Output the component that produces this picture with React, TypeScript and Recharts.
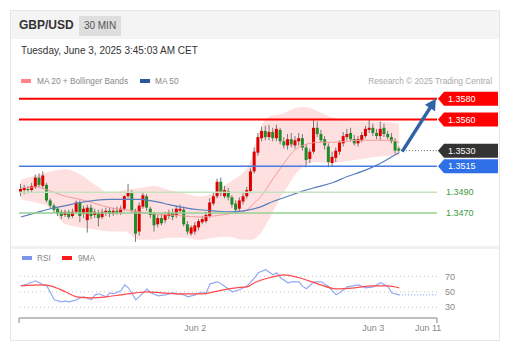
import React from "react";
import { ComposedChart, Bar, Line, Area, XAxis, YAxis, ReferenceLine } from "recharts";

// 30-minute candles, index 0..102 (Jun 2 00:00 = 47, Jun 3 00:00 = 95)
const opens = [
  1.3490, 1.3492, 1.3493, 1.3492, 1.3495, 1.3504, 1.3496, 1.3497, 1.3482, 1.3477,
  1.3474, 1.3471, 1.3468, 1.3471, 1.3467, 1.3471, 1.3480, 1.3469, 1.3463, 1.3475,
  1.3468, 1.3470, 1.3466, 1.3470, 1.3472, 1.3469, 1.3472, 1.3470, 1.3474, 1.3486,
  1.3489, 1.3472, 1.3452, 1.3476, 1.3486, 1.3474, 1.3469, 1.3459, 1.3465, 1.3463,
  1.3467, 1.3470, 1.3468, 1.3472, 1.3473, 1.3459, 1.3450, 1.3452, 1.3456, 1.3461,
  1.3462, 1.3467, 1.3479, 1.3486, 1.3500, 1.3486, 1.3491, 1.3485, 1.3479, 1.3474,
  1.3481, 1.3486, 1.3491, 1.3510, 1.3528, 1.3542, 1.3549, 1.3543, 1.3548, 1.3542,
  1.3550, 1.3539, 1.3535, 1.3541, 1.3535, 1.3539, 1.3542, 1.3533, 1.3522, 1.3529,
  1.3552, 1.3546, 1.3541, 1.3534, 1.3518, 1.3523, 1.3529, 1.3537, 1.3543, 1.3547,
  1.3541, 1.3537, 1.3540, 1.3544, 1.3550, 1.3552, 1.3547, 1.3544, 1.3552, 1.3546,
  1.3543, 1.3539, 1.3532,
];
const highs = [
  1.3498, 1.3497, 1.3496, 1.3499, 1.3507, 1.3508, 1.3510, 1.3499, 1.3484, 1.3479,
  1.3476, 1.3473, 1.3473, 1.3473, 1.3474, 1.3482, 1.3482, 1.3477, 1.3478, 1.3478,
  1.3474, 1.3473, 1.3474, 1.3475, 1.3475, 1.3475, 1.3476, 1.3477, 1.3487, 1.3498,
  1.3492, 1.3474, 1.3480, 1.3490, 1.3488, 1.3476, 1.3471, 1.3468, 1.3469, 1.3471,
  1.3473, 1.3474, 1.3477, 1.3478, 1.3476, 1.3462, 1.3458, 1.3461, 1.3464, 1.3467,
  1.3471, 1.3484, 1.3489, 1.3503, 1.3504, 1.3496, 1.3494, 1.3487, 1.3482, 1.3485,
  1.3489, 1.3495, 1.3513, 1.3533, 1.3547, 1.3553, 1.3554, 1.3555, 1.3552, 1.3555,
  1.3552, 1.3543, 1.3546, 1.3547, 1.3544, 1.3547, 1.3546, 1.3536, 1.3532, 1.3560,
  1.3558, 1.3550, 1.3544, 1.3537, 1.3529, 1.3533, 1.3540, 1.3548, 1.3551, 1.3552,
  1.3545, 1.3544, 1.3548, 1.3554, 1.3560, 1.3556, 1.3551, 1.3558, 1.3556, 1.3549,
  1.3547, 1.3542, 1.3534,
];
const lows = [
  1.3486, 1.3488, 1.3489, 1.3490, 1.3493, 1.3495, 1.3493, 1.3480, 1.3474, 1.3470,
  1.3467, 1.3464, 1.3466, 1.3464, 1.3465, 1.3469, 1.3461, 1.3465, 1.3451, 1.3464,
  1.3465, 1.3457, 1.3464, 1.3467, 1.3466, 1.3467, 1.3468, 1.3468, 1.3472, 1.3484,
  1.3470, 1.3442, 1.3448, 1.3474, 1.3472, 1.3465, 1.3452, 1.3456, 1.3458, 1.3460,
  1.3464, 1.3463, 1.3465, 1.3469, 1.3457, 1.3449, 1.3448, 1.3449, 1.3453, 1.3459,
  1.3460, 1.3465, 1.3477, 1.3484, 1.3486, 1.3484, 1.3482, 1.3475, 1.3469, 1.3471,
  1.3478, 1.3484, 1.3489, 1.3508, 1.3525, 1.3539, 1.3540, 1.3540, 1.3539, 1.3539,
  1.3536, 1.3532, 1.3531, 1.3533, 1.3532, 1.3535, 1.3530, 1.3514, 1.3518, 1.3527,
  1.3543, 1.3538, 1.3531, 1.3514, 1.3515, 1.3519, 1.3526, 1.3534, 1.3540, 1.3539,
  1.3535, 1.3534, 1.3538, 1.3542, 1.3547, 1.3544, 1.3541, 1.3540, 1.3543, 1.3541,
  1.3537, 1.3527, 1.3528,
];
const closes = [
  1.3493, 1.3494, 1.3492, 1.3496, 1.3504, 1.3497, 1.3506, 1.3482, 1.3477, 1.3473,
  1.3469, 1.3467, 1.3471, 1.3466, 1.3471, 1.3480, 1.3467, 1.3474, 1.3475, 1.3467,
  1.3471, 1.3465, 1.3471, 1.3472, 1.3469, 1.3472, 1.3470, 1.3474, 1.3486, 1.3490,
  1.3472, 1.3450, 1.3477, 1.3487, 1.3475, 1.3468, 1.3458, 1.3465, 1.3460, 1.3468,
  1.3470, 1.3466, 1.3474, 1.3474, 1.3459, 1.3452, 1.3456, 1.3458, 1.3462, 1.3464,
  1.3468, 1.3480, 1.3486, 1.3500, 1.3489, 1.3492, 1.3485, 1.3478, 1.3473, 1.3482,
  1.3486, 1.3492, 1.3510, 1.3529, 1.3543, 1.3549, 1.3543, 1.3548, 1.3542, 1.3551,
  1.3539, 1.3535, 1.3541, 1.3536, 1.3540, 1.3542, 1.3533, 1.3521, 1.3529, 1.3552,
  1.3546, 1.3540, 1.3535, 1.3519, 1.3524, 1.3530, 1.3538, 1.3544, 1.3546, 1.3541,
  1.3537, 1.3541, 1.3545, 1.3551, 1.3552, 1.3547, 1.3544, 1.3551, 1.3546, 1.3543,
  1.3539, 1.3530, 1.3530,
];

// Bollinger bands + MA 20, read at sample candles
const bandIdx = [0, 4, 8, 12, 16, 20, 24, 28, 32, 36, 40, 44, 48, 52, 56, 60, 61, 62, 63, 64, 65, 66, 68, 70, 72, 74, 76, 78, 80, 84, 88, 92, 96, 100, 102];
const bandUpper = [1.3502, 1.3506, 1.3510, 1.3512, 1.3507, 1.3497, 1.3489, 1.3492, 1.3494, 1.3496, 1.3492, 1.3489, 1.3486, 1.3489, 1.3499, 1.3509, 1.3513, 1.3521, 1.3533, 1.3545, 1.3555, 1.3560, 1.3564, 1.3565, 1.3568, 1.3571, 1.3572, 1.3571, 1.3568, 1.3562, 1.3559, 1.3558, 1.3558, 1.3557, 1.3556];
const bandLower = [1.3483, 1.3480, 1.3475, 1.3459, 1.3456, 1.3454, 1.3452, 1.3452, 1.3444, 1.3444, 1.3446, 1.3446, 1.3444, 1.3446, 1.3447, 1.3444, 1.3444, 1.3444, 1.3445, 1.3448, 1.3452, 1.3458, 1.3471, 1.3485, 1.3496, 1.3507, 1.3514, 1.3518, 1.3519, 1.3518, 1.3520, 1.3522, 1.3524, 1.3525, 1.3525];
const ma20 = [1.3494, 1.3495, 1.3491, 1.3486, 1.3483, 1.3479, 1.3475, 1.3473, 1.3471, 1.3469, 1.3468, 1.3467, 1.3466, 1.3467, 1.3469, 1.3471, 1.3473, 1.3476, 1.3480, 1.3483, 1.3487, 1.3492, 1.3503, 1.3513, 1.3523, 1.3531, 1.3535, 1.3537, 1.3538, 1.3538, 1.3539, 1.3540, 1.3540, 1.3540, 1.3538];

const ma50Idx = [0, 4, 8, 12, 16, 20, 24, 28, 32, 36, 40, 44, 48, 52, 56, 60, 64, 68, 72, 76, 80, 84, 88, 92, 96, 100, 102];
const ma50 = [1.3466, 1.3470, 1.3474, 1.3477, 1.3480, 1.3482, 1.3483, 1.3483, 1.3483, 1.3481, 1.3478, 1.3475, 1.3473, 1.3472, 1.3471, 1.3472, 1.3475, 1.3481, 1.3486, 1.3491, 1.3495, 1.3499, 1.3505, 1.3510, 1.3516, 1.3524, 1.3528];

// RSI panel
const rsiIdx = [0, 2, 4, 6, 7, 8, 9, 11, 12, 13, 15, 16, 17, 19, 20, 21, 23, 24, 25, 27, 28, 29, 31, 33, 34, 35, 37, 39, 41, 44, 45, 47, 48, 50, 51, 53, 54, 57, 59, 61, 63, 64, 66, 68, 69, 70, 72, 73, 75, 76, 77, 79, 81, 83, 85, 86, 88, 91, 93, 95, 97, 99, 100, 102];
const rsiVals = [57.8, 60.4, 64.3, 59, 57.8, 48.7, 39.6, 37, 38.3, 37, 39.6, 42.2, 43.5, 39.6, 46.1, 47.4, 43.5, 48.7, 47.4, 51.3, 59, 55.2, 39.6, 48.7, 53.9, 48.7, 44.8, 46.1, 48.7, 46.1, 43.5, 46.1, 48.7, 48.7, 60.4, 63, 60.4, 50, 52.6, 57.8, 68.2, 74.7, 78.6, 72, 74.7, 68.2, 61.7, 63, 63, 57, 54, 63, 63, 56.5, 46.1, 48.7, 56.5, 59, 55.2, 56.5, 61.7, 56.5, 48.7, 46.1];
const ma9Idx = [0, 6, 8, 12, 15, 19, 23, 27, 31, 34, 38, 42, 45, 49, 52, 56, 58, 61, 63, 67, 71, 75, 80, 85, 90, 95, 99, 102];
const ma9Vals = [57.8, 59, 57.8, 50, 43.5, 42.2, 43.5, 46.1, 48.7, 50, 48.7, 47.4, 47.4, 47.4, 50, 53.9, 55.2, 56.5, 61.7, 68.2, 72.1, 68.2, 60.4, 53.9, 55.2, 57.8, 57.8, 55.2];
const rsiExtIdx = [102, 112];
const rsiExtVals = [46.1, 46.1];

const dateTicks = [-0.5, 47, 95, 109.8, 112.2];
const dateLabels = ["", "Jun 2", "Jun 3", "Jun 11", ""];

// levels
const resistance = [1.358, 1.356];
const supportBlue = 1.3515;
const supportGreen = [1.349, 1.347];
const lastPrice = 1.353;
const arrowFrom = { x: 102.8, y: 1.3529 };
const arrowTo = { x: 111.9, y: 1.358 };

const X_DOMAIN: [number, number] = [-0.5, 112.2];
const FONT = "'Liberation Sans', Arial, sans-serif";
const RED = "#e00000";
const GREEN = "#1e8c28";
const WICK = "#777";

const pick = (idx: number[], vals: number[], i: number) => {
  const k = idx.indexOf(i);
  return k >= 0 ? vals[k] : null;
};

const candleRows = opens.map((o, i) => {
  const k = bandIdx.indexOf(i);
  return {
    i,
    o,
    h: highs[i],
    l: lows[i],
    c: closes[i],
    band: k >= 0 ? [bandLower[k], bandUpper[k]] : null,
    ma20: k >= 0 ? ma20[k] : null,
    ma50: pick(ma50Idx, ma50, i),
  };
});

const rsiRows = Array.from(new Set([...rsiIdx, ...ma9Idx, ...rsiExtIdx]))
  .sort((a, b) => a - b)
  .map((i) => ({
    i,
    rsi: pick(rsiIdx, rsiVals, i),
    ma9: pick(ma9Idx, ma9Vals, i),
    ext: pick(rsiExtIdx, rsiExtVals, i),
  }));

function Candle(props: any) {
  const { x, y, width, height, payload } = props;
  if (!payload || height == null) return null;
  const { o, h, l, c } = payload;
  const k = h - l > 0 ? height / (h - l) : 0;
  const yo = y + (h - o) * k;
  const yc = y + (h - c) * k;
  const cx = x + width / 2;
  return (
    <g>
      <line x1={cx} x2={cx} y1={y} y2={y + height} stroke={WICK} strokeWidth={1} />
      <rect x={x} y={Math.min(yo, yc)} width={width} height={Math.max(Math.abs(yc - yo), 1)} fill={c >= o ? RED : GREEN} />
    </g>
  );
}

function PriceTag({ viewBox, text, fill }: any) {
  const x0 = viewBox.x + viewBox.width + 1;
  const y = viewBox.y;
  const pts = `${x0},${y} ${x0 + 6},${y - 7} ${x0 + 60},${y - 7} ${x0 + 60},${y + 7} ${x0 + 6},${y + 7}`;
  return (
    <g>
      <polygon points={pts} fill={fill} />
      <text x={x0 + 10} y={y + 3.3} fontSize={9} fill="#fff" fontFamily={FONT}>{text}</text>
    </g>
  );
}

function GreenTag({ viewBox, text }: any) {
  return (
    <text x={viewBox.x + viewBox.width + 9} y={viewBox.y + 3.3} fontSize={9} fill="#3d9b3d" fontFamily={FONT}>
      {text}
    </text>
  );
}

function Arrow(props: any) {
  const { x1, y1, x2, y2 } = props;
  const dx = x2 - x1;
  const dy = y2 - y1;
  const len = Math.sqrt(dx * dx + dy * dy) || 1;
  const ux = dx / len;
  const uy = dy / len;
  const hl = 11;
  const hw = 6;
  const bx = x2 - ux * hl;
  const by = y2 - uy * hl;
  const pts = `${x2},${y2} ${bx - uy * hw},${by + ux * hw} ${bx + uy * hw},${by - ux * hw}`;
  return (
    <g>
      <line x1={x1} y1={y1} x2={bx + ux} y2={by + uy} stroke="#2f63a8" strokeWidth={3.5} />
      <polygon points={pts} fill="#2f63a8" />
    </g>
  );
}

function DateTick(props: any) {
  const { x, y, payload } = props;
  const k = dateTicks.indexOf(payload.value);
  const label = k >= 0 ? dateLabels[k] : "";
  if (!label) return <line x1={x} x2={x} y1={y - 8} y2={y - 3} stroke="#aaa" strokeWidth={1.5} />;
  return (
    <text x={x} y={y + 5} textAnchor="middle" fontSize={9} fill="#888" fontFamily={FONT}>
      {label}
    </text>
  );
}

const fmt = (v: number) => v.toFixed(4);

const abs = (l: number, t: number, extra: React.CSSProperties = {}): React.CSSProperties => ({
  position: "absolute",
  left: l,
  top: t,
  ...extra,
});

export default function App() {
  return (
    <div style={{ position: "absolute", left: 0, top: 0, width: 514, height: 352, background: "#fff", fontFamily: FONT }}>
      <div style={abs(10, 10, { width: 490, height: 331, border: "1px solid #e6e6e6", boxSizing: "border-box" })} />
      <div style={abs(11, 11, { width: 488, height: 28, background: "#f4f4f4" })} />
      <div style={abs(19, 18, { fontSize: 12, fontWeight: "bold", color: "#333", lineHeight: "14px" })}>GBP/USD</div>
      <div style={abs(79, 16, { width: 42, height: 20, background: "#dedede", color: "#555", fontSize: 10, lineHeight: "20px", textAlign: "center" })}>30 MIN</div>
      <div style={abs(21, 45, { fontSize: 10, color: "#333", lineHeight: "12px" })}>Tuesday, June 3, 2025 3:45:03 AM CET</div>

      <div style={abs(21, 79, { width: 10, height: 4, background: "#ff8585" })} />
      <div style={abs(37, 76, { fontSize: 8.3, color: "#888", lineHeight: "10px" })}>MA 20 + Bollinger Bands</div>
      <div style={abs(140, 79, { width: 10, height: 4, background: "#2b579a" })} />
      <div style={abs(155, 76, { fontSize: 8.3, color: "#888", lineHeight: "10px" })}>MA 50</div>
      <div style={abs(0, 76, { width: 492, fontSize: 8.3, color: "#aaa", lineHeight: "10px", textAlign: "right" })}>
        Research © 2025 Trading Central
      </div>

      <div style={abs(11, 246, { width: 488, height: 3, background: "#f1f1f1" })} />
      <div style={abs(22, 256, { width: 10, height: 4, background: "#7b96e8" })} />
      <div style={abs(37, 253, { fontSize: 8.3, color: "#888", lineHeight: "10px" })}>RSI</div>
      <div style={abs(62, 256, { width: 10, height: 4, background: "#ff1a1a" })} />
      <div style={abs(78, 253, { fontSize: 8.3, color: "#888", lineHeight: "10px" })}>9MA</div>

      <div style={abs(0, 0)}>
        <ComposedChart width={514} height={260} data={candleRows} margin={{ top: 78, right: 77, bottom: 16, left: 19 }}>
          <XAxis type="number" dataKey="i" domain={X_DOMAIN} allowDataOverflow hide />
          <YAxis type="number" domain={[1.344, 1.36]} allowDataOverflow hide />
          <Area
            type="monotone"
            dataKey="band"
            connectNulls
            stroke="none"
            fill="#ffd6d6"
            fillOpacity={0.75}
            isAnimationActive={false}
          />
          <Line type="monotone" dataKey="ma20" connectNulls stroke="#f59a9a" strokeWidth={1} dot={false} isAnimationActive={false} />
          <Line type="monotone" dataKey="ma50" connectNulls stroke="#5a7dbd" strokeWidth={1.2} dot={false} isAnimationActive={false} />
          {resistance.map((v) => (
            <ReferenceLine key={v} y={v} stroke="#ff0000" strokeWidth={2} label={(p: any) => <PriceTag {...p} text={fmt(v)} fill="#ff0000" />} />
          ))}
          <ReferenceLine y={supportBlue} stroke="#4a7be0" strokeWidth={1.5} label={(p: any) => <PriceTag {...p} text={fmt(supportBlue)} fill="#2f6fe8" />} />
          {supportGreen.map((v, k) => (
            <ReferenceLine key={v} y={v} stroke={k === 0 ? "#c3e3bf" : "#94d192"} strokeWidth={1.5} label={(p: any) => <GreenTag {...p} text={fmt(v)} />} />
          ))}
          <ReferenceLine y={lastPrice} stroke="none" label={(p: any) => <PriceTag {...p} text={fmt(lastPrice)} fill="#333" />} />
          <ReferenceLine segment={[{ x: 103, y: lastPrice }, { x: 112.2, y: lastPrice }]} stroke="#666" strokeDasharray="1 2" />
          <Bar dataKey={(d: any) => [d.l, d.h]} barSize={3} shape={Candle} isAnimationActive={false} />
          <ReferenceLine segment={[arrowFrom, arrowTo]} shape={Arrow} />
        </ComposedChart>
      </div>

      <div style={abs(0, 250)}>
        <ComposedChart width={514} height={100} data={rsiRows} margin={{ top: 11, right: 0, bottom: 12, left: 19 }}>
          <XAxis
            type="number"
            dataKey="i"
            domain={X_DOMAIN}
            allowDataOverflow
            ticks={dateTicks}
            interval={0}
            tick={DateTick}
            tickLine={false}
            axisLine={{ stroke: "#aaa", strokeWidth: 1.5 }}
            height={20}
          />
          <YAxis
            orientation="right"
            type="number"
            domain={[16, 90]}
            ticks={[30, 50, 70]}
            width={77}
            axisLine={false}
            tickLine={false}
            tick={{ fontSize: 9, fill: "#888", fontFamily: FONT }}
          />
          {[30, 50, 70].map((v) => (
            <ReferenceLine key={v} y={v} stroke="#c4c4c4" strokeDasharray="1 3" />
          ))}
          <Line type="linear" dataKey="rsi" connectNulls stroke="#92a9f2" strokeWidth={1.2} dot={false} isAnimationActive={false} />
          <Line type="monotone" dataKey="ma9" connectNulls stroke="#ff4a4a" strokeWidth={1.2} dot={false} isAnimationActive={false} />
          <Line type="linear" dataKey="ext" connectNulls stroke="#92a9f2" strokeWidth={1.2} strokeDasharray="1 2" dot={false} isAnimationActive={false} />
        </ComposedChart>
      </div>
    </div>
  );
}
